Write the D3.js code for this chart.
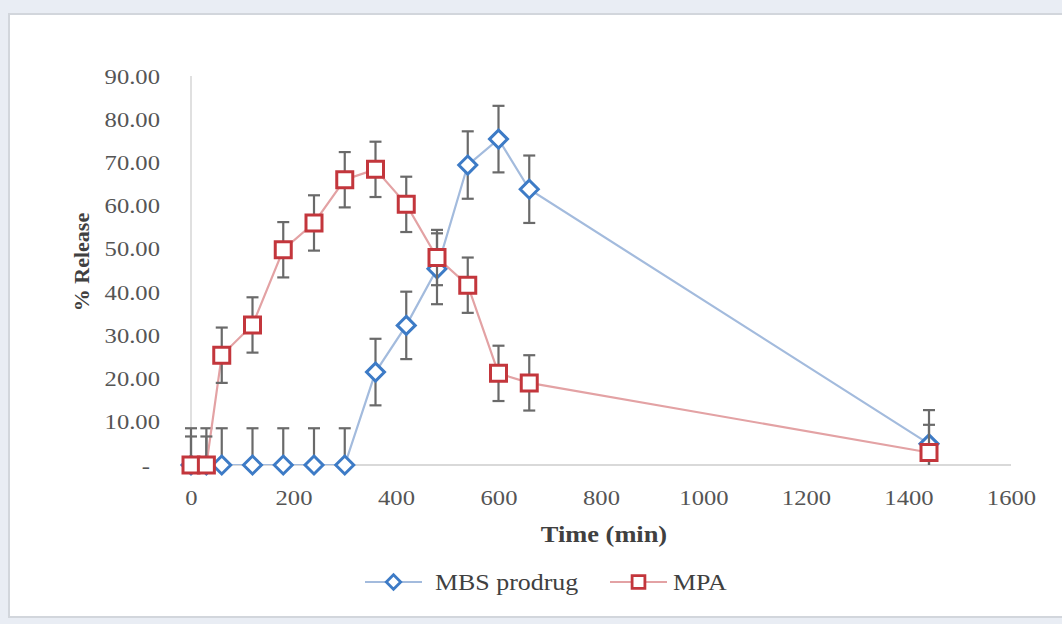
<!DOCTYPE html>
<html>
<head>
<meta charset="utf-8">
<script src="https://cdn.jsdelivr.net/npm/d3@7"></script>
<style>
  body { margin: 0; background: #e9edf4; }
  svg { display: block; }
</style>
</head>
<body>
<script>
// time points (min)
const times = [0, 30, 60, 120, 180, 240, 300, 360, 420, 480, 540, 600, 660, 1440];
// % release, MBS prodrug
const mbs = [0, 0, 0, 0, 0, 0, 0, 21.5, 32.3, 45.4, 69.4, 75.4, 63.8, 4.9];
const mbsErr = [8.5, 8.5, 8.5, 8.5, 8.5, 8.5, 8.5, 7.7, 7.8, 8.2, 7.8, 7.7, 7.8, 7.8];
// % release, MPA
const mpa = [0, 0, 25.4, 32.4, 49.8, 56.0, 66.0, 68.4, 60.3, 48.0, 41.6, 21.2, 19.0, 2.9];
const mpaErr = [6.6, 6.6, 6.4, 6.4, 6.4, 6.4, 6.4, 6.4, 6.4, 6.4, 6.4, 6.4, 6.4, 6.4];

const xTicks = [0, 200, 400, 600, 800, 1000, 1200, 1400, 1600];
const yTicks = [0, 10, 20, 30, 40, 50, 60, 70, 80, 90];

const W = 1062, H = 624;
const serif = "'Liberation Serif', 'Times New Roman', serif";

let svg = d3.select("body").append("svg")
    .attr("width", W)
    .attr("height", H);

// panel
svg.append("rect")
    .attr("x", 9).attr("y", 14)
    .attr("width", W).attr("height", 603)
    .attr("fill", "#ffffff")
    .attr("stroke", "#d2d6dc")
    .attr("stroke-width", 2);

// scales
let x = d3.scaleLinear().domain([0, 1600]).range([191, 1011]);
let y = d3.scaleLinear().domain([0, 90]).range([465, 76]);

// axis lines
svg.append("line")
    .attr("x1", x(0)).attr("x2", x(1600))
    .attr("y1", y(0)).attr("y2", y(0))
    .attr("stroke", "#d9d9d9").attr("stroke-width", 2);
svg.append("line")
    .attr("x1", x(0)).attr("x2", x(0))
    .attr("y1", y(90)).attr("y2", y(0))
    .attr("stroke", "#e0e0e0").attr("stroke-width", 2);

// X axis labels
let xAxis = d3.axisBottom(x).tickValues(xTicks).tickSize(0).tickPadding(24)
    .tickFormat(d3.format("d"));
let gx = svg.append("g")
    .attr("transform", "translate(0," + y(0) + ")")
    .call(xAxis);
gx.select(".domain").remove();
gx.selectAll("text")
    .attr("font-family", serif)
    .attr("font-size", 22)
    .attr("fill", "#555555")
    .attr("x", 0)
    .attr("transform", "scale(1.12,1)");

// Y axis labels
let yAxis = d3.axisLeft(y).tickValues(yTicks).tickSize(0)
    .tickFormat(d => d === 0 ? "-" : d.toFixed(2));
let gy = svg.append("g")
    .attr("transform", "translate(" + x(0) + ",0)")
    .call(yAxis);
gy.select(".domain").remove();
gy.selectAll("text")
    .attr("font-family", serif)
    .attr("font-size", 22)
    .attr("fill", "#555555")
    .attr("x", 0)
    .attr("transform", d => "translate(" + (d === 0 ? -41 : -31) + ",0) scale(1.12,1)");

// axis titles
svg.append("text")
    .attr("transform", "translate(604,542) scale(1.1,1)")
    .attr("text-anchor", "middle")
    .attr("font-family", serif)
    .attr("font-size", 24)
    .attr("font-weight", "bold")
    .attr("fill", "#404040")
    .text("Time (min)");

svg.append("text")
    .attr("transform", "translate(89,262) rotate(-90)")
    .attr("text-anchor", "middle")
    .attr("font-family", serif)
    .attr("font-size", 22)
    .attr("font-weight", "bold")
    .attr("fill", "#404040")
    .text("% Release");

// clip to plot area
svg.append("clipPath").attr("id", "plot")
    .append("rect")
    .attr("x", x(0) - 20).attr("y", 20)
    .attr("width", x(1600) - x(0) + 40)
    .attr("height", y(0) - 20);

const series = [
    {name: "MBS prodrug", values: mbs, err: mbsErr, line: "#a3bbdd", mark: "#3d7bc6", shape: "diamond"},
    {name: "MPA", values: mpa, err: mpaErr, line: "#e3a2a4", mark: "#c3363c", shape: "square"}
];

const diamond = "M0,-9L9,0L0,9L-9,0Z";
const square = "M-8,-8H8V8H-8Z";

let valueline = d3.line()
    .x(d => x(d.t))
    .y(d => y(d.v));

series.forEach(function(s) {
    let data = times.map((t, i) => ({t: t, v: s.values[i], e: s.err[i]}));
    let g = svg.append("g").attr("clip-path", "url(#plot)");

    g.append("path")
        .attr("d", valueline(data))
        .attr("fill", "none")
        .attr("stroke", s.line)
        .attr("stroke-width", 2.2);

    // error bars
    let eb = g.selectAll(".err")
        .data(data)
        .enter().append("g")
        .attr("stroke", "#6a6a6a")
        .attr("stroke-width", 2.2);
    eb.append("line")
        .attr("x1", d => x(d.t)).attr("x2", d => x(d.t))
        .attr("y1", d => y(d.v - d.e)).attr("y2", d => y(d.v + d.e));
    eb.append("line")
        .attr("x1", d => x(d.t) - 6).attr("x2", d => x(d.t) + 6)
        .attr("y1", d => y(d.v + d.e)).attr("y2", d => y(d.v + d.e));
    eb.append("line")
        .attr("x1", d => x(d.t) - 6).attr("x2", d => x(d.t) + 6)
        .attr("y1", d => y(d.v - d.e)).attr("y2", d => y(d.v - d.e));

    // markers
    svg.selectAll(".m-" + s.shape)
        .data(data)
        .enter().append("path")
        .attr("transform", d => "translate(" + x(d.t) + "," + y(d.v) + ")")
        .attr("d", s.shape === "diamond" ? diamond : square)
        .attr("fill", "#ffffff")
        .attr("stroke", s.mark)
        .attr("stroke-width", 3);
});

// legend
const legendX = [365, 610];
series.forEach(function(s, i) {
    let lg = svg.append("g").attr("transform", "translate(" + legendX[i] + ",582)");
    lg.append("line")
        .attr("x1", 0).attr("x2", 57)
        .attr("stroke", s.line).attr("stroke-width", 2.2);
    lg.append("path")
        .attr("transform", "translate(28.5,0) scale(0.8)")
        .attr("d", s.shape === "diamond" ? diamond : square)
        .attr("fill", "#ffffff")
        .attr("stroke", s.mark)
        .attr("stroke-width", 3.5);
    lg.append("text")
        .attr("transform", "translate(" + (i === 0 ? 70 : 63) + ",8) scale(1.08,1)")
        .attr("font-family", serif)
        .attr("font-size", 24)
        .attr("fill", "#404040")
        .text(s.name);
});
</script>
</body>
</html>
